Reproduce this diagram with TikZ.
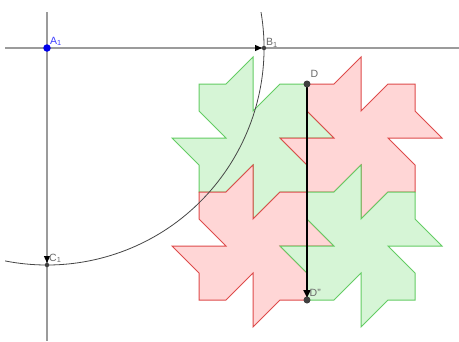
\documentclass[tikz,border=0pt]{standalone}
\usepackage{fontspec}
\setmainfont{Liberation Sans}
\usepackage{tikz}
\usetikzlibrary{arrows.meta}

\definecolor{axisgray}{RGB}{155,155,155}
\definecolor{arcgray}{RGB}{70,70,70}
\definecolor{ptgray}{RGB}{64,64,64}
\definecolor{lblgray}{RGB}{105,105,105}
\definecolor{ptblue}{RGB}{0,0,235}
\definecolor{lblblue}{RGB}{60,60,255}
\definecolor{tgreen}{RGB}{100,205,100}
\definecolor{tgreenfill}{RGB}{214,245,214}
\definecolor{tred}{RGB}{222,75,75}
\definecolor{tredfill}{RGB}{255,214,214}

% one pinwheel tile, cell side = 4 units
\newcommand{\tileshape}{(0,0) -- (1,0) -- (2,-1) -- (2,1) -- (3,0) -- (4,0) -- (4,1) -- (5,2) -- (3,2) -- (4,3) -- (4,4) -- (3,4) -- (2,5) -- (2,3) -- (1,4) -- (0,4) -- (0,3) -- (-1,2) -- (1,2) -- (0,1) -- cycle}

\begin{document}
\begin{tikzpicture}[
    x=1pt, y=-1pt,
    axis/.style={draw=axisgray, line width=1.2pt},
    arcline/.style={draw=arcgray, line width=0.8pt},
    greentile/.style={draw=tgreen, fill=tgreenfill, line width=1pt},
    redtile/.style={draw=tred, fill=tredfill, line width=1pt},
    vec/.style={draw=axisgray, line width=1.2pt, -{Triangle[length=7pt, width=6pt, color=black]}},
    bigvec/.style={draw=black, line width=2pt, -{Triangle[length=8pt, width=7pt]}, shorten >=2pt},
    bluept/.style={circle, fill=ptblue, inner sep=0pt, minimum size=7.5pt},
    graypt/.style={circle, fill=ptgray, inner sep=0pt, minimum size=7pt},
    smallpt/.style={circle, fill=ptgray, inner sep=0pt, minimum size=4.5pt},
    lbl/.style={anchor=base west, inner sep=0pt, font=\fontsize{10.5}{12}\selectfont, text=lblgray}
]
\useasboundingbox (0,0) rectangle (459,341);
\fill[white] (0,0) rectangle (459,341);

% Points
\coordinate (A1) at (47,48);
\coordinate (B1) at (264,48);
\coordinate (C1) at (47,265);
\coordinate (D) at (307,84);
\coordinate (D2) at (307,300);
\coordinate (hleft) at (5,48);
\coordinate (hright) at (459,48);
\coordinate (vtop) at (47,12);
\coordinate (vbot) at (47,341);

% Lines
\draw[axis] (hleft) -- (hright);
\draw[axis] (vtop) -- (vbot);

% Tiles
\begin{scope}[shift={(199,84)}, x=27pt, y=-27pt]
  \foreach \ox/\oy/\kind in {0/0/greentile, 4/0/redtile, 0/4/redtile, 4/4/greentile}{
    \draw[\kind, shift={(\ox,\oy)}] \tileshape;
  }
\end{scope}

% Circle about A1 through B1 and C1
\begin{scope}
  \clip (5,12) rectangle (459,341);
  \draw[arcline] ([shift={(-14:217)}]A1) arc[start angle=-14, end angle=108, radius=217];
\end{scope}

% Vectors
\draw[vec, shorten >=2pt] (A1) -- (B1);
\draw[vec, shorten >=2pt] (A1) -- (C1);
\draw[bigvec] (D) -- (D2);

% Dots
\node[bluept] (dotA1) at (A1) {};
\node[smallpt] (dotB1) at (B1) {};
\node[smallpt] (dotC1) at (C1) {};
\node[graypt] (dotD) at (D) {};
\node[graypt] (dotD2) at (D2) {};

% Labels
\node[lbl, text=lblblue] (lblA1) at (50,44) {A\textsubscript{1}};
\node[lbl] (lblB1) at (266,45.5) {B\textsubscript{1}};
\node[lbl] (lblC1) at (49,261) {C\textsubscript{1}};
\node[lbl] (lblD) at (310.5,77.5) {D};
\node[lbl] (lblD2) at (309.5,296.5) {D''};

\end{tikzpicture}
\end{document}
